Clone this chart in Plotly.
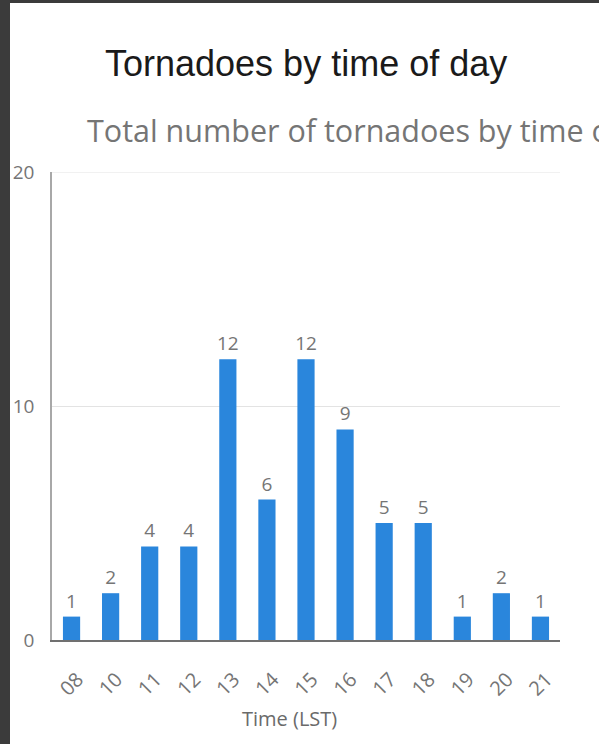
import plotly.graph_objects as go

hours = ["08", "10", "11", "12", "13", "14", "15", "16", "17", "18", "19", "20", "21"]
counts = [1, 2, 4, 4, 12, 6, 12, 9, 5, 5, 1, 2, 1]

title_text = "Tornadoes by time of day"
subtitle_text = "Total number of tornadoes by time of day"
x_title = "Time (LST)"

W, H = 599, 744
L, R, T, B = 52, 39, 172, 104
pw, ph = W - L - R, H - T - B

def px_x(px):
    return (px - L) / pw

def px_y(py):
    return (H - B - py) / ph

fig = go.Figure()
fig.add_trace(go.Bar(
    x=hours, y=counts,
    marker=dict(color="#2a86dc", line=dict(width=0)),
    text=[str(c) for c in counts], textposition="outside",
    constraintext="none",
    textfont=dict(family="Open Sans", size=19, color="#757575"),
    cliponaxis=False, hoverinfo="skip",
))

fig.update_layout(
    width=W, height=H,
    margin=dict(l=L, r=R, t=T, b=B, pad=0),
    paper_bgcolor="#3b3b3b", plot_bgcolor="rgba(0,0,0,0)",
    showlegend=False, bargap=0.56,
    font=dict(family="Open Sans", color="#757575"),
    xaxis=dict(
        type="category", showgrid=False, ticks="",
        showline=True, linecolor="#707070", linewidth=1.5,
        tickangle=-45, tickfont=dict(size=20, color="#757575"),
        ticklabelstandoff=18, ticklabelshift=6,
    ),
    yaxis=dict(
        range=[0, 20], tickvals=[0, 10, 20], showgrid=True,
        gridcolor="#e3e3e3", gridwidth=1, zeroline=False,
        showline=True, linecolor="#a8a8a8", linewidth=1.5, ticks="",
        tickfont=dict(size=19, color="#757575"), ticklabelstandoff=12,
    ),
    shapes=[
        dict(type="rect", xref="paper", yref="paper", layer="below",
             x0=px_x(10), x1=px_x(W + 5), y0=px_y(H + 5), y1=px_y(3),
             fillcolor="white", line=dict(width=0)),
        dict(type="line", xref="paper", yref="y", layer="below",
             x0=0, x1=1, y0=20, y1=20, line=dict(color="#e3e3e3", width=1)),
    ],
    annotations=[
        dict(text=title_text, xref="paper", yref="paper", x=px_x(306), y=px_y(64),
             xanchor="center", yanchor="middle", showarrow=False,
             font=dict(family="Liberation Sans", size=36, color="#1a1a1a")),
        dict(text=subtitle_text, xref="paper", yref="paper", x=px_x(85), y=px_y(130),
             xanchor="left", yanchor="middle", showarrow=False,
             font=dict(family="Open Sans", size=30.5, color="#757575")),
        dict(text=x_title, xref="paper", yref="paper", x=px_x(289), y=px_y(718),
             xanchor="center", yanchor="middle", showarrow=False,
             font=dict(family="Open Sans", size=20, color="#6a6a6a")),
    ],
)

fig.write_html(
    "out.html",
    config={"displayModeBar": False},
    post_script="document.body.style.margin='0';document.body.style.overflow='hidden';",
)
